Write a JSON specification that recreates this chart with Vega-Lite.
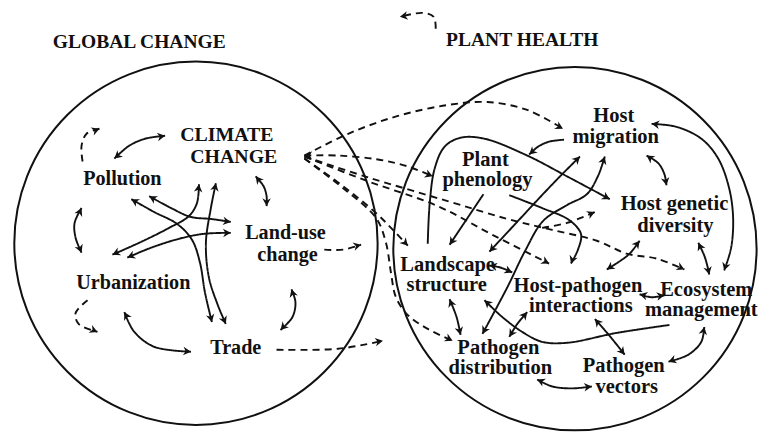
{
 "$schema": "https://vega.github.io/schema/vega-lite/v6.json",
 "width": 760, "height": 433,
 "autosize": {"type": "fit", "contains": "padding"},
 "padding": 0,
 "background": "white",
 "config": {"view": {"stroke": null}},
 "datasets": {
  "circles": [{"cx": 197, "cy": 245.5}, {"cx": 578, "cy": 251}],
  "labels": [
   {"t": "GLOBAL CHANGE", "x": 140, "y": 42, "role": "title"},
   {"t": "PLANT HEALTH", "x": 525, "y": 40, "role": "title"},
   {"t": "CLIMATE", "x": 228, "y": 136, "role": "cc"},
   {"t": "CHANGE", "x": 235, "y": 158, "role": "cc"},
   {"t": "Pollution", "x": 123, "y": 181, "role": "left"},
   {"t": "Land-use", "x": 287, "y": 235, "role": "left"},
   {"t": "change", "x": 289, "y": 257, "role": "left"},
   {"t": "Urbanization", "x": 134, "y": 286, "role": "left"},
   {"t": "Trade", "x": 237, "y": 351, "role": "left"},
   {"t": "Host", "x": 617, "y": 117, "role": "right"},
   {"t": "migration", "x": 619, "y": 138, "role": "right"},
   {"t": "Plant", "x": 488, "y": 161, "role": "right"},
   {"t": "phenology", "x": 490, "y": 182, "role": "right"},
   {"t": "Host genetic", "x": 678, "y": 206, "role": "right"},
   {"t": "diversity", "x": 679, "y": 228, "role": "right"},
   {"t": "Landscape", "x": 450, "y": 267, "role": "right"},
   {"t": "structure", "x": 449, "y": 288, "role": "right"},
   {"t": "Host-pathogen", "x": 581, "y": 289, "role": "right"},
   {"t": "interactions", "x": 584, "y": 309, "role": "right"},
   {"t": "Ecosystem", "x": 710, "y": 293, "role": "right"},
   {"t": "management", "x": 705, "y": 313, "role": "right"},
   {"t": "Pathogen", "x": 501, "y": 351, "role": "right"},
   {"t": "distribution", "x": 503, "y": 371, "role": "right"},
   {"t": "Pathogen", "x": 627, "y": 369, "role": "right"},
   {"t": "vectors", "x": 630, "y": 391, "role": "right"}
  ],
  "lines": [
   {"id": "D1", "s": "dashed", "q": 1, "x": 306, "y": 157}, {"id": "D1", "s": "dashed", "q": 2, "x": 350, "y": 135}, {"id": "D1", "s": "dashed", "q": 3, "x": 400, "y": 117}, {"id": "D1", "s": "dashed", "q": 4, "x": 450, "y": 106}, {"id": "D1", "s": "dashed", "q": 5, "x": 490, "y": 103}, {"id": "D1", "s": "dashed", "q": 6, "x": 530, "y": 111}, {"id": "D1", "s": "dashed", "q": 7, "x": 566, "y": 130},
   {"id": "D2", "s": "dashed", "q": 1, "x": 306, "y": 157}, {"id": "D2", "s": "dashed", "q": 2, "x": 340, "y": 157}, {"id": "D2", "s": "dashed", "q": 3, "x": 380, "y": 161}, {"id": "D2", "s": "dashed", "q": 4, "x": 410, "y": 168}, {"id": "D2", "s": "dashed", "q": 5, "x": 435, "y": 178},
   {"id": "D3", "s": "dashed", "q": 1, "x": 306, "y": 158}, {"id": "D3", "s": "dashed", "q": 2, "x": 370, "y": 183}, {"id": "D3", "s": "dashed", "q": 3, "x": 440, "y": 208}, {"id": "D3", "s": "dashed", "q": 4, "x": 495, "y": 237}, {"id": "D3", "s": "dashed", "q": 5, "x": 552, "y": 266},
   {"id": "D4", "s": "dashed", "q": 1, "x": 306, "y": 158}, {"id": "D4", "s": "dashed", "q": 2, "x": 370, "y": 179}, {"id": "D4", "s": "dashed", "q": 3, "x": 450, "y": 203}, {"id": "D4", "s": "dashed", "q": 4, "x": 510, "y": 221}, {"id": "D4", "s": "dashed", "q": 5, "x": 555, "y": 232}, {"id": "D4", "s": "dashed", "q": 6, "x": 600, "y": 243}, {"id": "D4", "s": "dashed", "q": 7, "x": 630, "y": 256}, {"id": "D4", "s": "dashed", "q": 8, "x": 660, "y": 261}, {"id": "D4", "s": "dashed", "q": 9, "x": 688, "y": 272},
   {"id": "D5", "s": "dashed", "q": 1, "x": 545, "y": 230}, {"id": "D5", "s": "dashed", "q": 2, "x": 570, "y": 225}, {"id": "D5", "s": "dashed", "q": 3, "x": 598, "y": 214},
   {"id": "D6", "s": "dashed", "q": 1, "x": 306, "y": 160}, {"id": "D6", "s": "dashed", "q": 2, "x": 345, "y": 188}, {"id": "D6", "s": "dashed", "q": 3, "x": 378, "y": 215}, {"id": "D6", "s": "dashed", "q": 4, "x": 395, "y": 232}, {"id": "D6", "s": "dashed", "q": 5, "x": 410, "y": 248},
   {"id": "D7", "s": "dashed", "q": 1, "x": 306, "y": 160}, {"id": "D7", "s": "dashed", "q": 2, "x": 345, "y": 190}, {"id": "D7", "s": "dashed", "q": 3, "x": 378, "y": 220}, {"id": "D7", "s": "dashed", "q": 4, "x": 388, "y": 245}, {"id": "D7", "s": "dashed", "q": 5, "x": 393, "y": 275}, {"id": "D7", "s": "dashed", "q": 6, "x": 398, "y": 300}, {"id": "D7", "s": "dashed", "q": 7, "x": 410, "y": 318}, {"id": "D7", "s": "dashed", "q": 8, "x": 430, "y": 332}, {"id": "D7", "s": "dashed", "q": 9, "x": 455, "y": 344},
   {"id": "D8", "s": "dashed", "q": 1, "x": 326, "y": 252}, {"id": "D8", "s": "dashed", "q": 2, "x": 345, "y": 252}, {"id": "D8", "s": "dashed", "q": 3, "x": 363, "y": 247},
   {"id": "D9", "s": "dashed", "q": 1, "x": 278, "y": 353}, {"id": "D9", "s": "dashed", "q": 2, "x": 340, "y": 352}, {"id": "D9", "s": "dashed", "q": 3, "x": 385, "y": 344},
   {"id": "D10", "s": "dashed", "q": 1, "x": 83, "y": 163}, {"id": "D10", "s": "dashed", "q": 2, "x": 82, "y": 147}, {"id": "D10", "s": "dashed", "q": 3, "x": 87, "y": 135}, {"id": "D10", "s": "dashed", "q": 4, "x": 100, "y": 130},
   {"id": "D11", "s": "dashed", "q": 1, "x": 88, "y": 303}, {"id": "D11", "s": "dashed", "q": 2, "x": 76, "y": 316}, {"id": "D11", "s": "dashed", "q": 3, "x": 79, "y": 327}, {"id": "D11", "s": "dashed", "q": 4, "x": 98, "y": 335},
   {"id": "D12", "s": "dashed", "q": 1, "x": 438, "y": 29}, {"id": "D12", "s": "dashed", "q": 2, "x": 436, "y": 17}, {"id": "D12", "s": "dashed", "q": 3, "x": 425, "y": 13}, {"id": "D12", "s": "dashed", "q": 4, "x": 402, "y": 17},
   {"id": "S1", "s": "solid", "q": 1, "x": 115, "y": 160}, {"id": "S1", "s": "solid", "q": 2, "x": 130, "y": 147}, {"id": "S1", "s": "solid", "q": 3, "x": 146, "y": 140}, {"id": "S1", "s": "solid", "q": 4, "x": 166, "y": 137},
   {"id": "S2", "s": "solid", "q": 1, "x": 257, "y": 178}, {"id": "S2", "s": "solid", "q": 2, "x": 265, "y": 188}, {"id": "S2", "s": "solid", "q": 3, "x": 268, "y": 198}, {"id": "S2", "s": "solid", "q": 4, "x": 268, "y": 208},
   {"id": "S3", "s": "solid", "q": 1, "x": 82, "y": 210}, {"id": "S3", "s": "solid", "q": 2, "x": 75, "y": 225}, {"id": "S3", "s": "solid", "q": 3, "x": 76, "y": 240}, {"id": "S3", "s": "solid", "q": 4, "x": 82, "y": 255},
   {"id": "S4", "s": "solid", "q": 1, "x": 293, "y": 292}, {"id": "S4", "s": "solid", "q": 2, "x": 297, "y": 305}, {"id": "S4", "s": "solid", "q": 3, "x": 294, "y": 320}, {"id": "S4", "s": "solid", "q": 4, "x": 282, "y": 333},
   {"id": "S5", "s": "solid", "q": 1, "x": 125, "y": 315}, {"id": "S5", "s": "solid", "q": 2, "x": 135, "y": 335}, {"id": "S5", "s": "solid", "q": 3, "x": 155, "y": 350}, {"id": "S5", "s": "solid", "q": 4, "x": 192, "y": 355},
   {"id": "S6", "s": "solid", "q": 1, "x": 200, "y": 186}, {"id": "S6", "s": "solid", "q": 2, "x": 198, "y": 205}, {"id": "S6", "s": "solid", "q": 3, "x": 190, "y": 218}, {"id": "S6", "s": "solid", "q": 4, "x": 170, "y": 230}, {"id": "S6", "s": "solid", "q": 5, "x": 140, "y": 245}, {"id": "S6", "s": "solid", "q": 6, "x": 113, "y": 257},
   {"id": "S7", "s": "solid", "q": 1, "x": 217, "y": 185}, {"id": "S7", "s": "solid", "q": 2, "x": 212, "y": 210}, {"id": "S7", "s": "solid", "q": 3, "x": 207, "y": 245}, {"id": "S7", "s": "solid", "q": 4, "x": 210, "y": 280}, {"id": "S7", "s": "solid", "q": 5, "x": 219, "y": 308}, {"id": "S7", "s": "solid", "q": 6, "x": 227, "y": 327},
   {"id": "S8", "s": "solid", "q": 1, "x": 132, "y": 201}, {"id": "S8", "s": "solid", "q": 2, "x": 155, "y": 214}, {"id": "S8", "s": "solid", "q": 3, "x": 178, "y": 226}, {"id": "S8", "s": "solid", "q": 4, "x": 193, "y": 242}, {"id": "S8", "s": "solid", "q": 5, "x": 201, "y": 265}, {"id": "S8", "s": "solid", "q": 6, "x": 206, "y": 295}, {"id": "S8", "s": "solid", "q": 7, "x": 213, "y": 325},
   {"id": "S9", "s": "solid", "q": 1, "x": 150, "y": 198}, {"id": "S9", "s": "solid", "q": 2, "x": 172, "y": 210}, {"id": "S9", "s": "solid", "q": 3, "x": 192, "y": 219}, {"id": "S9", "s": "solid", "q": 4, "x": 212, "y": 221}, {"id": "S9", "s": "solid", "q": 5, "x": 232, "y": 224},
   {"id": "S10", "s": "solid", "q": 1, "x": 128, "y": 260}, {"id": "S10", "s": "solid", "q": 2, "x": 152, "y": 250}, {"id": "S10", "s": "solid", "q": 3, "x": 180, "y": 241}, {"id": "S10", "s": "solid", "q": 4, "x": 205, "y": 236}, {"id": "S10", "s": "solid", "q": 5, "x": 232, "y": 235},
   {"id": "R1", "s": "solid", "q": 1, "x": 567, "y": 141}, {"id": "R1", "s": "solid", "q": 2, "x": 552, "y": 143}, {"id": "R1", "s": "solid", "q": 3, "x": 541, "y": 148}, {"id": "R1", "s": "solid", "q": 4, "x": 532, "y": 156},
   {"id": "R2", "s": "solid", "q": 1, "x": 430, "y": 246}, {"id": "R2", "s": "solid", "q": 2, "x": 432, "y": 205}, {"id": "R2", "s": "solid", "q": 3, "x": 437, "y": 170}, {"id": "R2", "s": "solid", "q": 4, "x": 447, "y": 148}, {"id": "R2", "s": "solid", "q": 5, "x": 463, "y": 139}, {"id": "R2", "s": "solid", "q": 6, "x": 487, "y": 140}, {"id": "R2", "s": "solid", "q": 7, "x": 530, "y": 157}, {"id": "R2", "s": "solid", "q": 8, "x": 570, "y": 178}, {"id": "R2", "s": "solid", "q": 9, "x": 613, "y": 201},
   {"id": "R3", "s": "solid", "q": 1, "x": 512, "y": 197}, {"id": "R3", "s": "solid", "q": 2, "x": 545, "y": 210}, {"id": "R3", "s": "solid", "q": 3, "x": 572, "y": 222}, {"id": "R3", "s": "solid", "q": 4, "x": 584, "y": 236}, {"id": "R3", "s": "solid", "q": 5, "x": 581, "y": 252}, {"id": "R3", "s": "solid", "q": 6, "x": 574, "y": 266},
   {"id": "R4", "s": "solid", "q": 1, "x": 486, "y": 196}, {"id": "R4", "s": "solid", "q": 2, "x": 470, "y": 220}, {"id": "R4", "s": "solid", "q": 3, "x": 452, "y": 247},
   {"id": "R5", "s": "solid", "q": 1, "x": 492, "y": 254}, {"id": "R5", "s": "solid", "q": 2, "x": 518, "y": 226}, {"id": "R5", "s": "solid", "q": 3, "x": 543, "y": 199}, {"id": "R5", "s": "solid", "q": 4, "x": 563, "y": 178}, {"id": "R5", "s": "solid", "q": 5, "x": 583, "y": 158},
   {"id": "R6", "s": "solid", "q": 1, "x": 608, "y": 158}, {"id": "R6", "s": "solid", "q": 2, "x": 601, "y": 178}, {"id": "R6", "s": "solid", "q": 3, "x": 590, "y": 196}, {"id": "R6", "s": "solid", "q": 4, "x": 570, "y": 207}, {"id": "R6", "s": "solid", "q": 5, "x": 546, "y": 223}, {"id": "R6", "s": "solid", "q": 6, "x": 528, "y": 253}, {"id": "R6", "s": "solid", "q": 7, "x": 510, "y": 290}, {"id": "R6", "s": "solid", "q": 8, "x": 485, "y": 337},
   {"id": "R7", "s": "solid", "q": 1, "x": 650, "y": 157}, {"id": "R7", "s": "solid", "q": 2, "x": 662, "y": 165}, {"id": "R7", "s": "solid", "q": 3, "x": 668, "y": 176}, {"id": "R7", "s": "solid", "q": 4, "x": 670, "y": 187},
   {"id": "R8", "s": "solid", "q": 1, "x": 655, "y": 125}, {"id": "R8", "s": "solid", "q": 2, "x": 680, "y": 128}, {"id": "R8", "s": "solid", "q": 3, "x": 705, "y": 140}, {"id": "R8", "s": "solid", "q": 4, "x": 722, "y": 160}, {"id": "R8", "s": "solid", "q": 5, "x": 733, "y": 190}, {"id": "R8", "s": "solid", "q": 6, "x": 737, "y": 220}, {"id": "R8", "s": "solid", "q": 7, "x": 735, "y": 250}, {"id": "R8", "s": "solid", "q": 8, "x": 728, "y": 273},
   {"id": "R9", "s": "solid", "q": 1, "x": 702, "y": 245}, {"id": "R9", "s": "solid", "q": 2, "x": 708, "y": 258}, {"id": "R9", "s": "solid", "q": 3, "x": 711, "y": 268}, {"id": "R9", "s": "solid", "q": 4, "x": 713, "y": 277},
   {"id": "R10", "s": "solid", "q": 1, "x": 643, "y": 243}, {"id": "R10", "s": "solid", "q": 2, "x": 633, "y": 256}, {"id": "R10", "s": "solid", "q": 3, "x": 624, "y": 263}, {"id": "R10", "s": "solid", "q": 4, "x": 610, "y": 272},
   {"id": "R11", "s": "solid", "q": 1, "x": 492, "y": 268}, {"id": "R11", "s": "solid", "q": 2, "x": 503, "y": 270}, {"id": "R11", "s": "solid", "q": 3, "x": 515, "y": 275},
   {"id": "R12", "s": "solid", "q": 1, "x": 643, "y": 297}, {"id": "R12", "s": "solid", "q": 2, "x": 655, "y": 300}, {"id": "R12", "s": "solid", "q": 3, "x": 668, "y": 298},
   {"id": "R13", "s": "solid", "q": 1, "x": 452, "y": 302}, {"id": "R13", "s": "solid", "q": 2, "x": 459, "y": 320}, {"id": "R13", "s": "solid", "q": 3, "x": 463, "y": 338},
   {"id": "R14", "s": "solid", "q": 1, "x": 530, "y": 315}, {"id": "R14", "s": "solid", "q": 2, "x": 520, "y": 327}, {"id": "R14", "s": "solid", "q": 3, "x": 512, "y": 340},
   {"id": "R15", "s": "solid", "q": 1, "x": 598, "y": 322}, {"id": "R15", "s": "solid", "q": 2, "x": 612, "y": 338}, {"id": "R15", "s": "solid", "q": 3, "x": 628, "y": 358},
   {"id": "R16", "s": "solid", "q": 1, "x": 708, "y": 330}, {"id": "R16", "s": "solid", "q": 2, "x": 705, "y": 345}, {"id": "R16", "s": "solid", "q": 3, "x": 692, "y": 358}, {"id": "R16", "s": "solid", "q": 4, "x": 672, "y": 365},
   {"id": "R17", "s": "solid", "q": 1, "x": 540, "y": 383}, {"id": "R17", "s": "solid", "q": 2, "x": 555, "y": 390}, {"id": "R17", "s": "solid", "q": 3, "x": 575, "y": 392}, {"id": "R17", "s": "solid", "q": 4, "x": 595, "y": 390},
   {"id": "R18", "s": "solid", "q": 1, "x": 673, "y": 328}, {"id": "R18", "s": "solid", "q": 2, "x": 620, "y": 336}, {"id": "R18", "s": "solid", "q": 3, "x": 570, "y": 346}, {"id": "R18", "s": "solid", "q": 4, "x": 545, "y": 345}, {"id": "R18", "s": "solid", "q": 5, "x": 525, "y": 335}, {"id": "R18", "s": "solid", "q": 6, "x": 505, "y": 320}, {"id": "R18", "s": "solid", "q": 7, "x": 487, "y": 303}
  ],
  "heads": [
   {"x": 566, "y": 130, "a": 28}, {"x": 306, "y": 157, "a": 180}, {"x": 435, "y": 178, "a": 22},
   {"x": 552, "y": 266, "a": 28}, {"x": 688, "y": 272, "a": 25}, {"x": 598, "y": 214, "a": -23},
   {"x": 410, "y": 248, "a": 47}, {"x": 455, "y": 344, "a": 26}, {"x": 363, "y": 247, "a": -15},
   {"x": 385, "y": 344, "a": -10}, {"x": 100, "y": 130, "a": -21}, {"x": 98, "y": 335, "a": 23},
   {"x": 402, "y": 17, "a": 170},
   {"x": 115, "y": 160, "a": 139}, {"x": 166, "y": 137, "a": -9},
   {"x": 257, "y": 178, "a": -129}, {"x": 268, "y": 208, "a": 90},
   {"x": 82, "y": 210, "a": -65}, {"x": 82, "y": 255, "a": 68},
   {"x": 293, "y": 292, "a": -107}, {"x": 282, "y": 333, "a": 133},
   {"x": 125, "y": 315, "a": -117}, {"x": 192, "y": 355, "a": 5},
   {"x": 200, "y": 186, "a": -84}, {"x": 113, "y": 257, "a": 156},
   {"x": 217, "y": 185, "a": -79}, {"x": 227, "y": 327, "a": 67},
   {"x": 132, "y": 201, "a": -150}, {"x": 213, "y": 325, "a": 77},
   {"x": 150, "y": 198, "a": -151}, {"x": 232, "y": 224, "a": 8},
   {"x": 128, "y": 260, "a": 157}, {"x": 232, "y": 235, "a": -2},
   {"x": 532, "y": 156, "a": 138}, {"x": 613, "y": 201, "a": 28}, {"x": 574, "y": 266, "a": 110},
   {"x": 452, "y": 247, "a": 124},
   {"x": 492, "y": 254, "a": 133}, {"x": 583, "y": 158, "a": -45},
   {"x": 608, "y": 158, "a": -71}, {"x": 485, "y": 337, "a": 118},
   {"x": 650, "y": 157, "a": -146}, {"x": 670, "y": 187, "a": 80},
   {"x": 655, "y": 125, "a": -173}, {"x": 728, "y": 273, "a": 107},
   {"x": 702, "y": 245, "a": -115}, {"x": 713, "y": 277, "a": 77},
   {"x": 643, "y": 243, "a": -52}, {"x": 610, "y": 272, "a": 147},
   {"x": 492, "y": 268, "a": -170}, {"x": 515, "y": 275, "a": 23},
   {"x": 643, "y": 297, "a": -166}, {"x": 668, "y": 298, "a": -9},
   {"x": 452, "y": 302, "a": -111}, {"x": 463, "y": 338, "a": 77},
   {"x": 530, "y": 315, "a": -50}, {"x": 512, "y": 340, "a": 122},
   {"x": 598, "y": 322, "a": -131}, {"x": 628, "y": 358, "a": 51},
   {"x": 708, "y": 330, "a": -79}, {"x": 672, "y": 365, "a": 161},
   {"x": 540, "y": 383, "a": -155}, {"x": 595, "y": 390, "a": -6},
   {"x": 487, "y": 303, "a": -137}
  ]
 },
 "layer": [
  {
   "data": {"name": "circles"},
   "mark": {"type": "point", "shape": "circle", "filled": false, "size": 132000, "stroke": "#111", "strokeWidth": 2, "opacity": 1},
   "encoding": {
    "x": {"field": "cx", "type": "quantitative", "scale": {"domain": [0, 760], "nice": false, "zero": false}, "axis": null},
    "y": {"field": "cy", "type": "quantitative", "scale": {"domain": [0, 433], "nice": false, "zero": false, "reverse": true}, "axis": null}
   }
  },
  {
   "data": {"name": "lines"},
   "mark": {"type": "line", "interpolate": "catmull-rom", "strokeWidth": 1.9, "color": "#111"},
   "encoding": {
    "x": {"field": "x", "type": "quantitative", "axis": null},
    "y": {"field": "y", "type": "quantitative", "axis": null},
    "detail": {"field": "id"},
    "order": {"field": "q"},
    "strokeDash": {"field": "s", "type": "nominal", "scale": {"domain": ["solid", "dashed"], "range": [[1, 0], [7, 5]]}, "legend": null}
   }
  },
  {
   "data": {"name": "heads"},
   "mark": {"type": "point", "shape": "M0,0L-1,-0.55L-0.7,0L-1,0.55Z", "filled": true, "size": 240, "color": "#111", "opacity": 1},
   "encoding": {
    "x": {"field": "x", "type": "quantitative", "axis": null},
    "y": {"field": "y", "type": "quantitative", "axis": null},
    "angle": {"field": "a", "type": "quantitative", "scale": null}
   }
  },
  {
   "data": {"name": "labels"},
   "mark": {"type": "text", "font": "Liberation Serif", "fontWeight": "bold", "align": "center", "baseline": "middle", "color": "#111"},
   "encoding": {
    "x": {"field": "x", "type": "quantitative", "axis": null},
    "y": {"field": "y", "type": "quantitative", "axis": null},
    "text": {"field": "t"},
    "size": {"field": "role", "type": "nominal", "scale": {"domain": ["title", "cc", "left", "right"], "range": [19.5, 20.5, 20.5, 17.5]}, "legend": null}
   }
  }
 ]
}
